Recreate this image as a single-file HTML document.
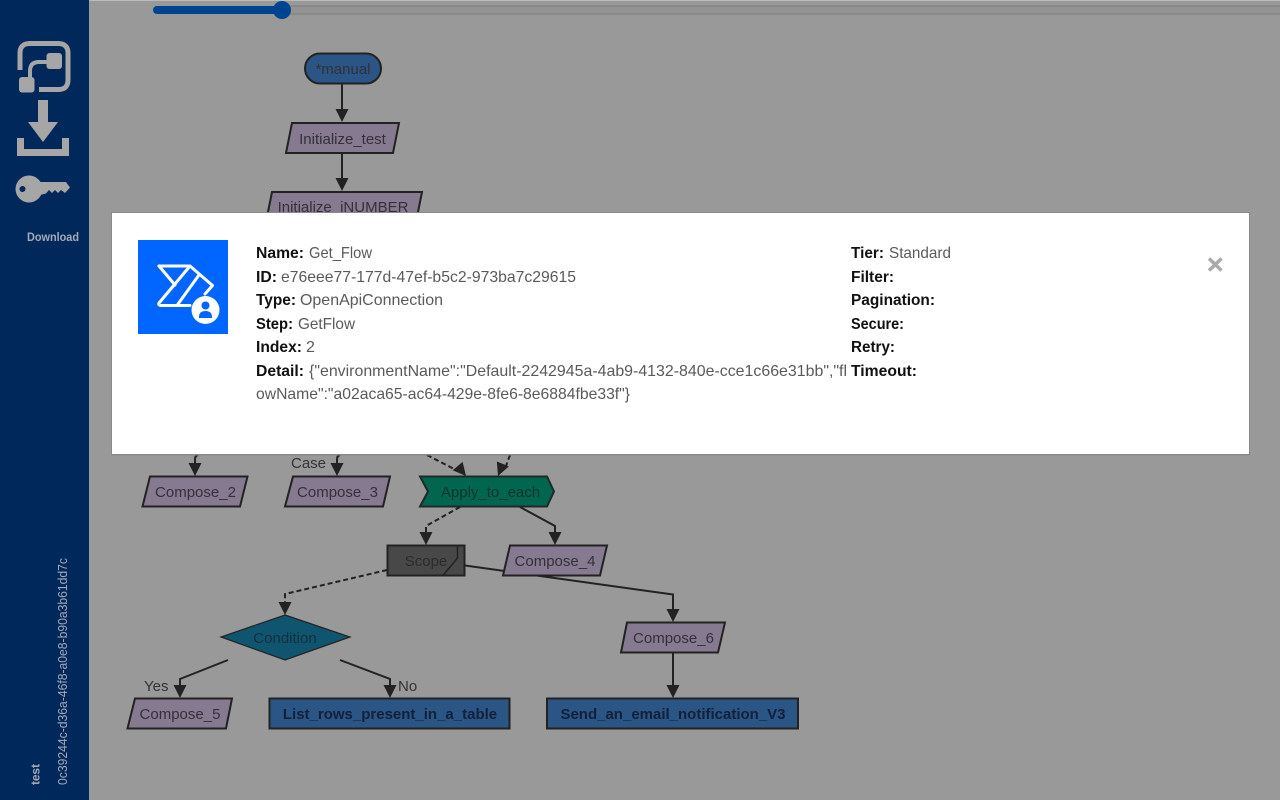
<!DOCTYPE html>
<html><head><meta charset="utf-8"><title>Flow</title>
<style>
html,body{margin:0;padding:0;width:1280px;height:800px;overflow:hidden;background:#999}
svg{display:block}
.n{font:15px "Liberation Sans",sans-serif;fill:#33303a;text-anchor:middle}
.b{font-weight:bold;fill:#12203a}
.l{font:15px "Liberation Sans",sans-serif;fill:#333}
.s{stroke:#222;stroke-width:2;fill:none}
.d{stroke-dasharray:5 3}
.p{fill:#867a91;stroke:#222;stroke-width:2}
.k{font:bold 16px "Liberation Sans",sans-serif;fill:#111}
.v{font:16px "Liberation Sans",sans-serif;fill:#5a5a5a}
</style></head><body>
<svg width="1280" height="800" viewBox="0 0 1280 800" xmlns="http://www.w3.org/2000/svg">
<defs><path id="a" d="M-6.500 -13H6.500L0 0Z" fill="#222"/></defs>
<rect width="1280" height="800" fill="#999"/>
<rect x="89" y="0" width="1191" height="1" fill="#bbb"/>
<!-- slider -->
<rect x="290" y="6" width="990" height="8" fill="#939393"/>
<path d="M290 6H1280M290 14H1280" stroke="#7d7d7d" stroke-width="1"/>
<path d="M157 10H282" stroke="#004490" stroke-width="8" stroke-linecap="round"/>
<circle cx="282" cy="10" r="9" fill="#004490"/>
<!-- sidebar -->
<rect x="0" y="0" width="89" height="800" fill="#00285a"/>
<g fill="none" stroke="#a6a6a6" stroke-width="5">
<path d="M20 70V53Q20 43.500 30 43.500H58Q68 43.500 68 53V80Q68 89.500 58 89.500H39"/>
<path d="M30 78V71Q30 62 39 62H50" stroke-width="4"/>
</g>
<g fill="#a6a6a6">
<rect x="46.500" y="53" width="15.500" height="16" rx="3"/>
<rect x="19" y="77" width="15.500" height="15.500" rx="3"/>
<path d="M38 100H48V122H58L43 142L28 122H38Z"/>
<path d="M17 138H24V149H62V138H69V156H17Z"/>
<circle cx="29" cy="189" r="13.500"/>
<path d="M36 182H66L70 187.500L65 193L61 190L58 193L55 190L52 193L49 190L46 193.500L36 196Z"/>
</g>
<circle cx="22.500" cy="189" r="3" fill="#00285a"/>
<text x="27" y="241" font-family="Liberation Sans,sans-serif" font-size="12" font-weight="bold" fill="#a3abb8" textLength="52" lengthAdjust="spacingAndGlyphs">Download</text>
<text transform="translate(39.500,785) rotate(-90)" font-family="Liberation Sans,sans-serif" font-size="12" font-weight="bold" fill="#a3abb8" textLength="21">test</text>
<text transform="translate(67,785) rotate(-90)" font-family="Liberation Sans,sans-serif" font-size="12.500" fill="#a3abb8" textLength="227" lengthAdjust="spacingAndGlyphs">0c39244c-d36a-46f8-a0e8-b90a3b61dd7c</text>

<!-- connectors -->
<path class="s" d="M342 84V111M342 153V180"/>
<use href="#a" x="342" y="122"/><use href="#a" x="342" y="191"/>
<path class="s" d="M198 455Q195 456 195 459V465M340 455Q337 456 337 459V465"/>
<use href="#a" x="195" y="476"/><use href="#a" x="337" y="476"/>
<path class="s d" d="M427 455L456 470M510 455L506 466"/>
<use href="#a" transform="translate(466,476) rotate(-40)"/>
<use href="#a" transform="translate(498,476) rotate(22)"/>
<path class="s d" d="M460 507L426 526V533"/><use href="#a" x="426" y="545"/>
<path class="s" d="M520 507L555 526V534"/><use href="#a" x="555" y="545"/>
<path class="s d" d="M387 570L285 594V603"/><use href="#a" x="285" y="615"/>
<path class="s" d="M673 652V687"/><use href="#a" x="673" y="698"/>
<path class="s" d="M228 660L180 679V687"/><use href="#a" x="180" y="698"/>
<path class="s" d="M340 660L390 679V687"/><use href="#a" x="390" y="698"/>
<path class="s" d="M465 565.500L673 594.500V611"/><use href="#a" x="673" y="622"/>

<!-- nodes -->
<rect x="305" y="53.500" width="76" height="30" rx="15" fill="#2a5585" stroke="#222" stroke-width="2"/>
<text class="n" x="343" y="74">*manual</text>
<path class="p" d="M292 123H399L393 153H286Z"/><text class="n" x="342.500" y="144">Initialize_test</text>
<path class="p" d="M272 192H422L416 222H266Z"/><text class="n" x="343" y="212">Initialize_iNUMBER</text>
<path class="p" d="M150 476.500H247.500L240 506.500H142.500Z"/><text class="n" x="195.500" y="497">Compose_2</text>
<path class="p" d="M293 476.500H390L383 506.500H285Z"/><text class="n" x="337.500" y="497">Compose_3</text>
<path d="M420 476.500H547L554 491.500L547 506.500H420L428 491.500Z" fill="#006650" stroke="#1f2a28" stroke-width="2"/>
<text class="n" x="490.500" y="497" style="fill:#10332c">Apply_to_each</text>
<rect x="387.500" y="545.500" width="77" height="30" fill="#484848" stroke="#222" stroke-width="2"/>
<path d="M457.500 545.500V558L443 575.500" fill="none" stroke="#222" stroke-width="1.500"/>
<text class="n" x="426" y="566" style="fill:#2b2b2b">Scope</text>
<path class="p" d="M510 545.500H607L600 575.500H503Z"/><text class="n" x="555" y="566">Compose_4</text>
<path class="p" d="M627 622.500H725L718 652.500H621Z"/><text class="n" x="673.500" y="643">Compose_6</text>
<path d="M285 615L350 637L285 660L221 637Z" fill="#105570" stroke="#222" stroke-width="1.200"/>
<text class="n" x="285" y="643" style="fill:#12303d">Condition</text>
<path class="p" d="M135 698.500H232L226 728.500H127.500Z"/><text class="n" x="180" y="719">Compose_5</text>
<rect x="269.500" y="698.500" width="240" height="30" fill="#2a5585" stroke="#222" stroke-width="2"/>
<text class="n b" x="390" y="719">List_rows_present_in_a_table</text>
<rect x="547" y="698.500" width="251" height="30" fill="#2a5585" stroke="#222" stroke-width="2"/>
<text class="n b" x="673" y="719">Send_an_email_notification_V3</text>
<text class="l" x="291" y="468">Case</text>
<text class="l" x="144" y="691">Yes</text>
<text class="l" x="398" y="691">No</text>

<!-- modal -->
<rect x="111" y="212" width="1139" height="243.500" fill="#8a8a8a"/>
<rect x="112" y="213" width="1137" height="241" fill="#fff"/>
<rect x="138" y="240" width="90" height="94" fill="#0066ff"/>
<g fill="none" stroke="#fff" stroke-width="3" stroke-linejoin="round" stroke-linecap="round">
<path d="M159 266H190L212.500 285.500L205 294"/>
<path d="M159 266L175 285"/>
<path d="M190 266L159 303Q158 305.500 161 305.500H190"/>
<path d="M199 275L178 304"/>
</g>
<circle cx="205.500" cy="310" r="14" fill="#fff"/>
<circle cx="205.500" cy="305.500" r="4" fill="#0066ff"/>
<path d="M199 318Q198.500 311 205.500 311Q212.500 311 212 318Z" fill="#0066ff"/>

<text class="k" x="256" y="258" textLength="48" lengthAdjust="spacingAndGlyphs">Name:</text>
<text class="v" x="309" y="258" textLength="63" lengthAdjust="spacingAndGlyphs">Get_Flow</text>
<text class="k" x="256" y="282" textLength="21" lengthAdjust="spacingAndGlyphs">ID:</text>
<text class="v" x="281" y="282" textLength="295" lengthAdjust="spacingAndGlyphs">e76eee77-177d-47ef-b5c2-973ba7c29615</text>
<text class="k" x="256" y="305" textLength="40" lengthAdjust="spacingAndGlyphs">Type:</text>
<text class="v" x="300" y="305" textLength="143" lengthAdjust="spacingAndGlyphs">OpenApiConnection</text>
<text class="k" x="256" y="329" textLength="37" lengthAdjust="spacingAndGlyphs">Step:</text>
<text class="v" x="298" y="329" textLength="57" lengthAdjust="spacingAndGlyphs">GetFlow</text>
<text class="k" x="256" y="352" textLength="46" lengthAdjust="spacingAndGlyphs">Index:</text>
<text class="v" x="306" y="352">2</text>
<text class="k" x="256" y="376" textLength="48" lengthAdjust="spacingAndGlyphs">Detail:</text>
<text class="v" x="309" y="376" textLength="538" lengthAdjust="spacingAndGlyphs">{"environmentName":"Default-2242945a-4ab9-4132-840e-cce1c66e31bb","fl</text>
<text class="v" x="256" y="399" textLength="374" lengthAdjust="spacingAndGlyphs">owName":"a02aca65-ac64-429e-8fe6-8e6884fbe33f"}</text>

<text class="k" x="851" y="258" textLength="33" lengthAdjust="spacingAndGlyphs">Tier:</text>
<text class="v" x="889" y="258" textLength="62" lengthAdjust="spacingAndGlyphs">Standard</text>
<text class="k" x="851" y="282" textLength="43" lengthAdjust="spacingAndGlyphs">Filter:</text>
<text class="k" x="851" y="305" textLength="84" lengthAdjust="spacingAndGlyphs">Pagination:</text>
<text class="k" x="851" y="329" textLength="53" lengthAdjust="spacingAndGlyphs">Secure:</text>
<text class="k" x="851" y="352" textLength="44" lengthAdjust="spacingAndGlyphs">Retry:</text>
<text class="k" x="851" y="376" textLength="66" lengthAdjust="spacingAndGlyphs">Timeout:</text>
<path d="M1209 258.500L1221.500 270.500M1221.500 258.500L1209 270.500" stroke="#aaa" stroke-width="3.500"/>
</svg>
</body></html>
